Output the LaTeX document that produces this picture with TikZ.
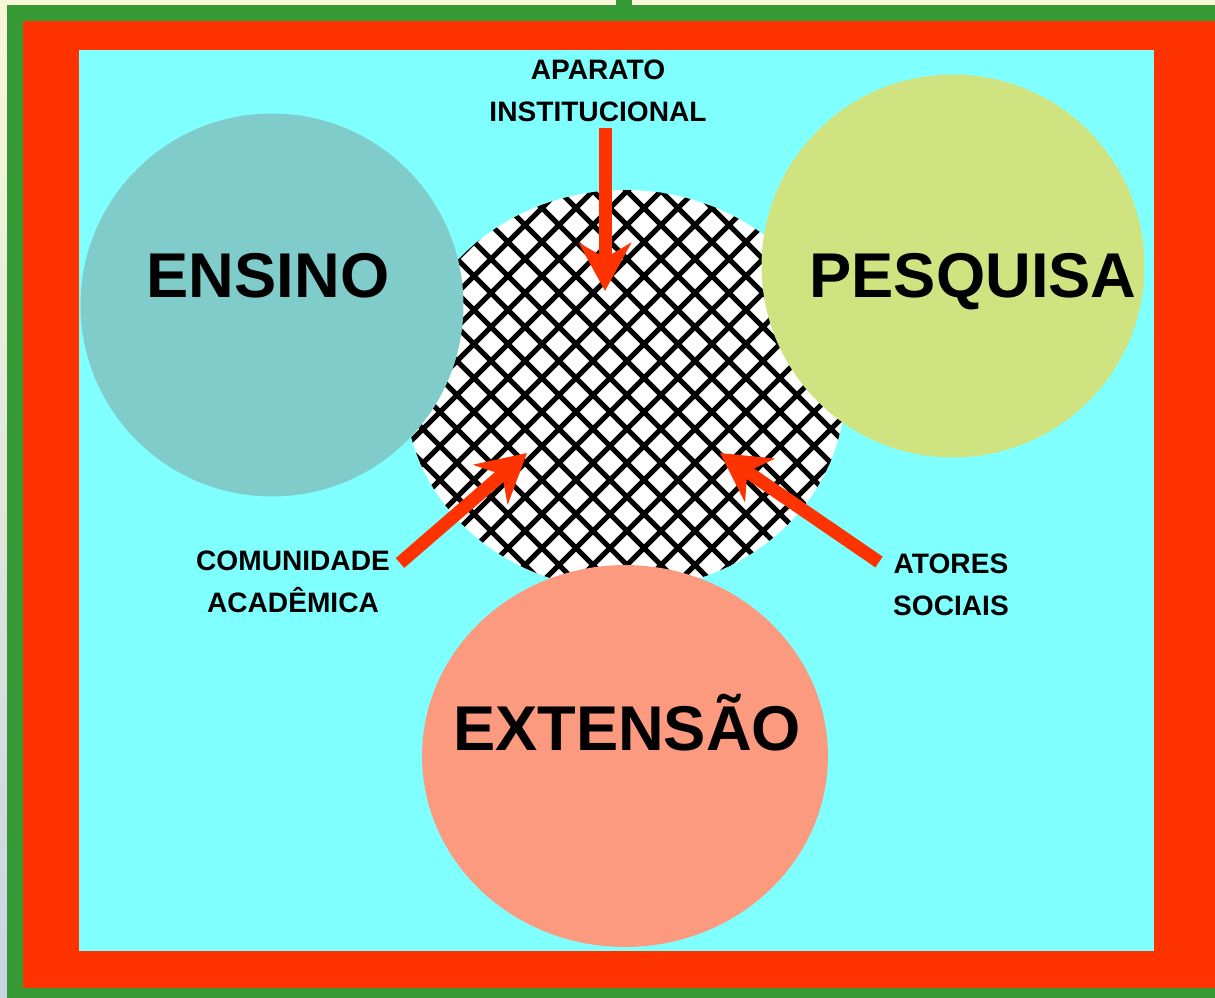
\documentclass[tikz,border=0pt]{standalone}
\usepackage{fontspec}
\setmainfont{Liberation Sans}
\usetikzlibrary{arrows.meta,shapes.geometric}
\definecolor{verde}{HTML}{359A35}
\definecolor{vermelho}{HTML}{FF3300}
\definecolor{ciano}{HTML}{80FFFF}
\definecolor{azulado}{HTML}{80CCCA}
\definecolor{amarelado}{HTML}{CFE480}
\definecolor{salmao}{HTML}{FC9A80}
\definecolor{creme}{HTML}{F8F8D8}
\definecolor{azulcinza}{HTML}{C8D4E2}
\begin{document}
\begin{tikzpicture}[x=0.02cm, y=-0.02cm,
		titulo/.style={font=\fontsize{36}{40}\selectfont\bfseries, anchor=base, inner sep=0},
		rotulo/.style={font=\fontsize{16}{24}\selectfont\bfseries, align=center, inner sep=0},
		seta/.style={draw=vermelho, line width=0.26cm, -{Stealth[length=9.6mm, width=10.4mm, inset=3mm]}},
		malha/.style={line width=0.1cm}]
	\useasboundingbox (0,0) rectangle (1215,998);
	\shade[top color=creme, bottom color=azulcinza] (0,0) rectangle (1215,998);
	\fill[verde] (7,5) rectangle (1215,998);
	\fill[verde] (616,0) rectangle (632,5);
	\fill[vermelho] (23,21) rectangle (1215,988);
	\fill[ciano] (79,50) rectangle (1154,951);
	% malha central
	\begin{scope}
		\clip (625,390) ellipse [x radius=4.4cm, y radius=4cm];
		\fill[white] (400,185) rectangle (850,595);
		\foreach \c in {580,614,...,1460}
			\draw[malha] (400,{\c-400}) -- (850,{\c-850});
		\foreach \c in {-210,-176,...,680}
			\draw[malha] (400,{400-\c}) -- (850,{850-\c});
	\end{scope}
	\node[circle, fill=azulado, minimum size=7.66cm, inner sep=0] (ensino) at (272,305) {};
	\node[circle, fill=amarelado, minimum size=7.66cm, inner sep=0] (pesquisa) at (953,266) {};
	\node[ellipse, fill=salmao, minimum width=8.12cm, minimum height=7.64cm, inner sep=0] (extensao) at (625,756) {};
	\node[titulo] (ensinotxt) at (268,297) {ENSINO};
	\node[titulo] (pesquisatxt) at (973,297) {PESQUISA};
	\node[titulo] (extensaotxt) at (627,750) {EXTENSÃO};
	\node[rotulo] (aparato) at (598,91) {APARATO\\INSTITUCIONAL};
	\node[rotulo] (comunidade) at (293,582) {COMUNIDADE\\ACADÊMICA};
	\node[rotulo] (atores) at (951,585) {ATORES\\SOCIAIS};
	\coordinate (ini1) at (605,128);
	\coordinate (fim1) at (605,291);
	\coordinate (ini2) at (400,563);
	\coordinate (fim2) at (527,453);
	\coordinate (ini3) at (879,562);
	\coordinate (fim3) at (720,453);
	\draw[seta] (ini1) -- (fim1);
	\draw[seta] (ini2) -- (fim2);
	\draw[seta] (ini3) -- (fim3);
\end{tikzpicture}
\end{document}
